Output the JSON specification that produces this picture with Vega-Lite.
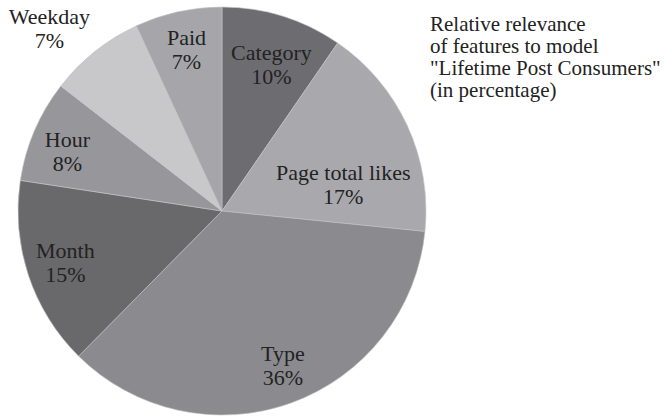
{
  "$schema": "https://vega.github.io/schema/vega-lite/v6.json",
  "width": 444,
  "height": 418,
  "padding": {"top": 2, "left": 0, "right": 221, "bottom": 0},
  "autosize": {"type": "none"},
  "background": "white",
  "config": {"view": {"stroke": null}},
  "title": {
    "text": ["Relative relevance", "of features to model", "\"Lifetime Post Consumers\"", "(in percentage)"],
    "orient": "top",
    "anchor": "start",
    "frame": "group",
    "align": "left",
    "baseline": "top",
    "offset": -99,
    "dx": 430,
    "font": "Liberation Serif",
    "fontSize": 21,
    "fontWeight": "normal",
    "lineHeight": 22,
    "color": "#222222"
  },
  "data": {
    "values": [
      {"feature": "Category", "pct": 9.6, "shown": 10, "order": 1},
      {"feature": "Page total likes", "pct": 17.0, "shown": 17, "order": 2},
      {"feature": "Type", "pct": 35.8, "shown": 36, "order": 3},
      {"feature": "Month", "pct": 15.0, "shown": 15, "order": 4},
      {"feature": "Hour", "pct": 8.1, "shown": 8, "order": 5},
      {"feature": "Weekday", "pct": 7.6, "shown": 7, "order": 6},
      {"feature": "Paid", "pct": 6.9, "shown": 7, "order": 7}
    ]
  },
  "transform": [
    {"window": [{"op": "sum", "field": "pct", "as": "cum"}], "sort": [{"field": "order"}], "frame": [null, 0]},
    {"calculate": "datum.cum - datum.pct / 2", "as": "mid"},
    {"calculate": "datum.feature + '\\n' + datum.shown + '%'", "as": "label"}
  ],
  "layer": [
    {
      "mark": {"type": "arc", "outerRadius": 204, "stroke": "#c4c4c6", "strokeWidth": 0.6},
      "encoding": {
        "theta": {"field": "pct", "type": "quantitative", "stack": true, "scale": {"domain": [0, 100]}},
        "order": {"field": "order", "type": "quantitative"},
        "color": {
          "field": "feature",
          "type": "nominal",
          "scale": {
            "domain": ["Category", "Page total likes", "Type", "Month", "Hour", "Weekday", "Paid"],
            "range": ["#6d6d71", "#a9a9ad", "#8b8b8f", "#69696b", "#97979b", "#c8c8cb", "#a6a6aa"]
          },
          "legend": null
        }
      }
    },
    {
      "transform": [{"filter": "datum.feature == 'Month' || datum.feature == 'Paid'"}],
      "mark": {"type": "text", "radius": 165, "dy": -12, "font": "Liberation Serif", "fontSize": 22, "lineBreak": "\n", "lineHeight": 24, "color": "#222222"},
      "encoding": {
        "theta": {"field": "mid", "type": "quantitative", "scale": {"domain": [0, 100]}},
        "text": {"field": "label", "type": "nominal"}
      }
    },
    {
      "transform": [{"filter": "datum.feature == 'Type'"}],
      "mark": {"type": "text", "radius": 165, "dx": 5, "dy": -12, "font": "Liberation Serif", "fontSize": 22, "lineBreak": "\n", "lineHeight": 24, "color": "#222222"},
      "encoding": {
        "theta": {"field": "mid", "type": "quantitative", "scale": {"domain": [0, 100]}},
        "text": {"field": "label", "type": "nominal"}
      }
    },
    {
      "transform": [{"filter": "datum.feature == 'Hour'"}],
      "mark": {"type": "text", "radius": 165, "dx": -3, "dy": -6, "font": "Liberation Serif", "fontSize": 22, "lineBreak": "\n", "lineHeight": 24, "color": "#222222"},
      "encoding": {
        "theta": {"field": "mid", "type": "quantitative", "scale": {"domain": [0, 100]}},
        "text": {"field": "label", "type": "nominal"}
      }
    },
    {
      "transform": [{"filter": "datum.feature == 'Category'"}],
      "mark": {"type": "text", "radius": 153, "dx": 4, "dy": -12, "font": "Liberation Serif", "fontSize": 22, "lineBreak": "\n", "lineHeight": 24, "color": "#222222"},
      "encoding": {
        "theta": {"field": "mid", "type": "quantitative", "scale": {"domain": [0, 100]}},
        "text": {"field": "label", "type": "nominal"}
      }
    },
    {
      "transform": [{"filter": "datum.feature == 'Page total likes'"}],
      "mark": {"type": "text", "radius": 127, "dx": 6, "dy": 15, "font": "Liberation Serif", "fontSize": 22, "lineBreak": "\n", "lineHeight": 24, "color": "#222222"},
      "encoding": {
        "theta": {"field": "mid", "type": "quantitative", "scale": {"domain": [0, 100]}},
        "text": {"field": "label", "type": "nominal"}
      }
    },
    {
      "transform": [{"filter": "datum.feature == 'Weekday'"}],
      "mark": {"type": "text", "radius": 258, "dx": -12, "dy": 8, "font": "Liberation Serif", "fontSize": 22, "lineBreak": "\n", "lineHeight": 24, "color": "#222222"},
      "encoding": {
        "theta": {"field": "mid", "type": "quantitative", "scale": {"domain": [0, 100]}},
        "text": {"field": "label", "type": "nominal"}
      }
    }
  ]
}
